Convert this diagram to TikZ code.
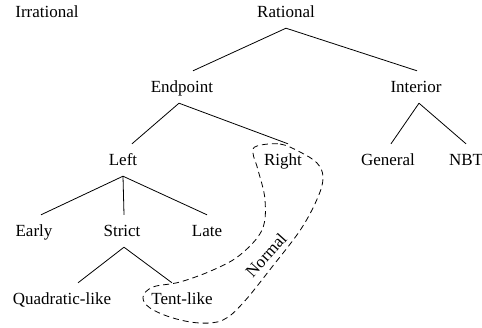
\documentclass[tikz,border=0pt]{standalone}
\usepackage{fontspec}
\setmainfont{Liberation Serif}
\newfontfamily\tnrfont{Liberation Serif}
\usetikzlibrary{calc}
\begin{document}
\begin{tikzpicture}[x=1pt,y=-1pt,
  every node/.style={font=\tnrfont\fontsize{17}{20}\selectfont},
  lab/.style={inner sep=0pt, text height=14pt, text depth=4pt, minimum height=32pt, anchor=base},
  edge/.style={line width=0.8pt},
  loopline/.style={line width=0.8pt, dash pattern=on 6pt off 4pt}]
\useasboundingbox (0,0) rectangle (482,327);
% nodes
\node[lab] (Irr) at (47,17) {Irrational};
\node[lab] (Rat) at (286,17) {Rational};
\node[lab] (End) at (182,92) {Endpoint};
\node[lab] (Int) at (416,92) {Interior};
\node[lab] (Lft) at (123,165) {Left};
\node[lab] (Rgt) at (283,165) {Right};
\node[lab] (Gen) at (388,165) {General};
\node[lab] (NBT) at (466,165) {NBT};
\node[lab] (Ear) at (34,236) {Early};
\node[lab] (Str) at (122,236) {Strict};
\node[lab] (Lat) at (207,236) {Late};
\node[lab] (Qua) at (62,304) {Quadratic-like};
\node[lab] (Ten) at (182,304) {Tent-like};
% edges
\draw[edge] (Rat.south) -- ([xshift=11pt]End.north);
\draw[edge] (Rat.south) -- ([xshift=1pt]Int.north);
\draw[edge] ([xshift=-3pt]End.south) -- ([xshift=9pt]Lft.north);
\draw[edge] ([xshift=-3pt]End.south) -- ([xshift=5pt]Rgt.north);
\draw[edge] ([xshift=3pt]Int.south) -- ([xshift=3pt]Gen.north);
\draw[edge] ([xshift=3pt]Int.south) -- (NBT.north);
\draw[edge] (Lft.south) -- ([xshift=7pt]Ear.north);
\draw[edge] (Lft.south) -- ([xshift=2pt]Str.north);
\draw[edge] (Lft.south) -- (Lat.north);
\draw[edge] ([xshift=2pt]Str.south) -- ([xshift=16pt]Qua.north);
\draw[edge] ([xshift=2pt]Str.south) -- ([xshift=-10pt]Ten.north);
% dashed loop around Right and Tent-like
\draw[loopline] plot[smooth cycle, tension=0.6] coordinates {
  (257,146) (280,144) (300,152) (317,163) (323,177) (318,197) (301,229)
  (272,267) (243,303) (223,320) (200,323) (173,318) (150,308) (143,297)
  (153,287) (180,282) (213,270) (240,255) (262,230) (265,200) (258,170) (253,153)};
\node[rotate=48, inner sep=0pt] (Nor) at (266,255) {Normal};
\end{tikzpicture}
\end{document}
